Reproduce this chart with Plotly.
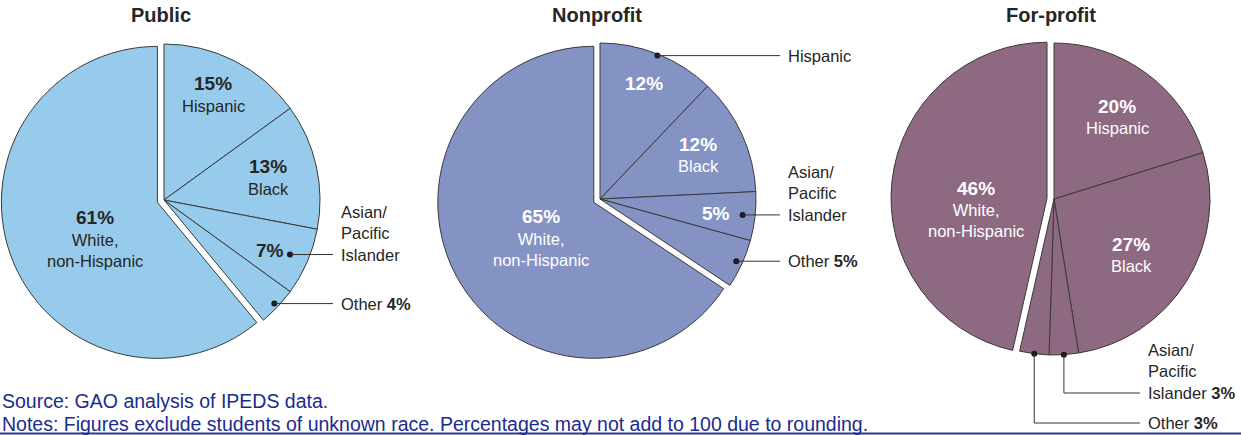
import math
import plotly.graph_objects as go

# ---------------- data ----------------
SECTORS = ["Public", "Nonprofit", "For-profit"]
GROUPS = ["Hispanic", "Black", "Asian/Pacific Islander", "Other", "White, non-Hispanic"]
PUBLIC = [15, 13, 7, 4, 61]
NONPROFIT = [12, 12, 5, 5, 65]
FORPROFIT = [20, 27, 3, 3, 46]
VALUES = [PUBLIC, NONPROFIT, FORPROFIT]

SOURCE = "Source: GAO analysis of IPEDS data."
NOTES = "Notes: Figures exclude students of unknown race. Percentages may not add to 100 due to rounding."

# ---------------- style / layout ----------------
W, H = 1241, 435
FONT = "Liberation Sans, Arial, sans-serif"
COLORS = ["#97cbeb", "#8493c4", "#8e6982"]
INNER_TEXT = ["#262626", "#ffffff", "#ffffff"]
DARK = "#262626"
LINE = "#333333"
CENTERS = [(164, 200), (600, 199), (1054, 199)]
R = 156
PULL = 0.045
PULLED = 4  # White slice pulled out

# inside labels: (slice, show name, radius fraction, angle offset deg)
INSIDE = [
    [(0, True, 0.81, -4), (1, True, 0.70, -5), (2, False, 0.75, 2), (4, True, 0.41, 6)],
    [(0, False, 0.79, -1), (1, True, 0.72, -4.6), (2, False, 0.75, 1), (4, True, 0.35, 13)],
    [(0, True, 0.72, -2), (1, True, 0.575, -1.5), (4, True, 0.46, 1.6)],
]
# outside labels: (slice, dot radius fraction, show pct, x end of leader, elbow y or None)
OUTSIDE = [
    [(2, 0.88, False, 333, None), (3, 0.97, True, 333, None)],
    [(0, 0.99, False, 780, None), (2, 0.92, False, 780, None), (3, 0.96, True, 780, None)],
    [(2, 1.0, True, 1140, 393), (3, 1.0, True, 1140, 423)],
]
OUT_NAMES = {0: "Hispanic", 2: "Asian/<br>Pacific<br>Islander", 3: "Other"}
LBL = 16.5
PCT = 19
LINE_H = 1.3 * LBL


def px(x):
    return x / W


def py(y):
    return 1 - y / H


def pt(cx, cy, ang, rad):
    a = math.radians(ang)
    return cx + rad * math.sin(a), cy - rad * math.cos(a)


fig = go.Figure()
annotations = []
shapes = []

for k, (name, vals) in enumerate(zip(SECTORS, VALUES)):
    cx, cy = CENTERS[k]
    half = R * (1 + PULL)
    pulls = [PULL if i == PULLED else 0 for i in range(len(vals))]
    fig.add_trace(go.Pie(
        labels=GROUPS, values=vals, sort=False, direction="clockwise", rotation=0,
        pull=pulls, textinfo="none", hoverinfo="label+value", showlegend=False,
        marker=dict(colors=[COLORS[k]] * len(vals), line=dict(color="#3a3a3a", width=1)),
        domain=dict(x=[px(cx - half), px(cx + half)], y=[py(cy + half), py(cy - half)]),
        name=name,
    ))

    total = sum(vals)
    mids = []
    cum = 0
    for v in vals:
        a0 = 360 * cum / total
        cum += v
        a1 = 360 * cum / total
        mids.append((a0 + a1) / 2)

    # title
    annotations.append(dict(x=px(cx - 3), y=py(15), xref="paper", yref="paper", text=f"<b>{name}</b>",
                            showarrow=False, font=dict(size=20, color=DARK, family=FONT),
                            xanchor="center", yanchor="middle"))

    # inside labels
    for (i, show_name, rf, off) in INSIDE[k]:
        ccx, ccy = cx, cy
        if i == PULLED:
            ccx, ccy = pt(cx, cy, mids[i], PULL * R)
        x, y = pt(ccx, ccy, mids[i] + off, rf * R)
        annotations.append(dict(x=px(x), y=py(y), xref="paper", yref="paper",
                                text=f"<b>{vals[i]}%</b>", showarrow=False,
                                font=dict(size=PCT, color=INNER_TEXT[k], family=FONT),
                                xanchor="center", yanchor="middle"))
        if show_name:
            nm = GROUPS[i].replace(", ", ",<br>")
            annotations.append(dict(x=px(x), y=py(y + 11), xref="paper", yref="paper",
                                    text=nm, showarrow=False,
                                    font=dict(size=LBL, color=INNER_TEXT[k], family=FONT),
                                    xanchor="center", yanchor="top"))

    # outside labels with leader lines
    for (i, rf, show_pct, xend, elbow) in OUTSIDE[k]:
        dx, dy = pt(cx, cy, mids[i], rf * R)
        shapes.append(dict(type="circle", xref="paper", yref="paper",
                           x0=px(dx - 3), x1=px(dx + 3), y0=py(dy + 3), y1=py(dy - 3),
                           fillcolor="#1a1a1a", line=dict(width=0)))
        if elbow is None:
            ly = dy
            path = f"M{px(dx)},{py(dy)} L{px(xend)},{py(dy)}"
        else:
            ly = elbow
            path = f"M{px(dx)},{py(dy)} L{px(dx)},{py(elbow)} L{px(xend)},{py(elbow)}"
        shapes.append(dict(type="path", xref="paper", yref="paper", path=path,
                           line=dict(color=LINE, width=1)))
        txt = OUT_NAMES[i]
        if show_pct:
            txt += f" <b>{vals[i]}%</b>"
        nlines = txt.count("<br>") + 1
        ty = ly - (nlines - 1) / 2 * LINE_H
        annotations.append(dict(x=px(xend + 6), y=py(ty), xref="paper", yref="paper",
                                text=txt, showarrow=False, align="left",
                                font=dict(size=LBL, color=DARK, family=FONT),
                                xanchor="left", yanchor="middle"))

# source and notes
annotations.append(dict(x=0, y=py(401), xref="paper", yref="paper", text=SOURCE, showarrow=False,
                        xanchor="left", yanchor="middle",
                        font=dict(size=19.5, color="#1b2b8f", family=FONT)))
annotations.append(dict(x=0, y=py(424), xref="paper", yref="paper", text=NOTES, showarrow=False,
                        xanchor="left", yanchor="middle",
                        font=dict(size=19.5, color="#1b2b8f", family=FONT)))
shapes.append(dict(type="line", xref="paper", yref="paper", x0=0, x1=1, y0=py(433.5), y1=py(433.5),
                   line=dict(color="#2b3a8f", width=2)))

fig.update_layout(
    width=W, height=H, margin=dict(l=0, r=0, t=0, b=0),
    paper_bgcolor="white", plot_bgcolor="white",
    annotations=annotations, shapes=shapes, showlegend=False,
)

fig.write_html("out.html", config={"displayModeBar": False},
               post_script="document.body.style.margin='0px';")
